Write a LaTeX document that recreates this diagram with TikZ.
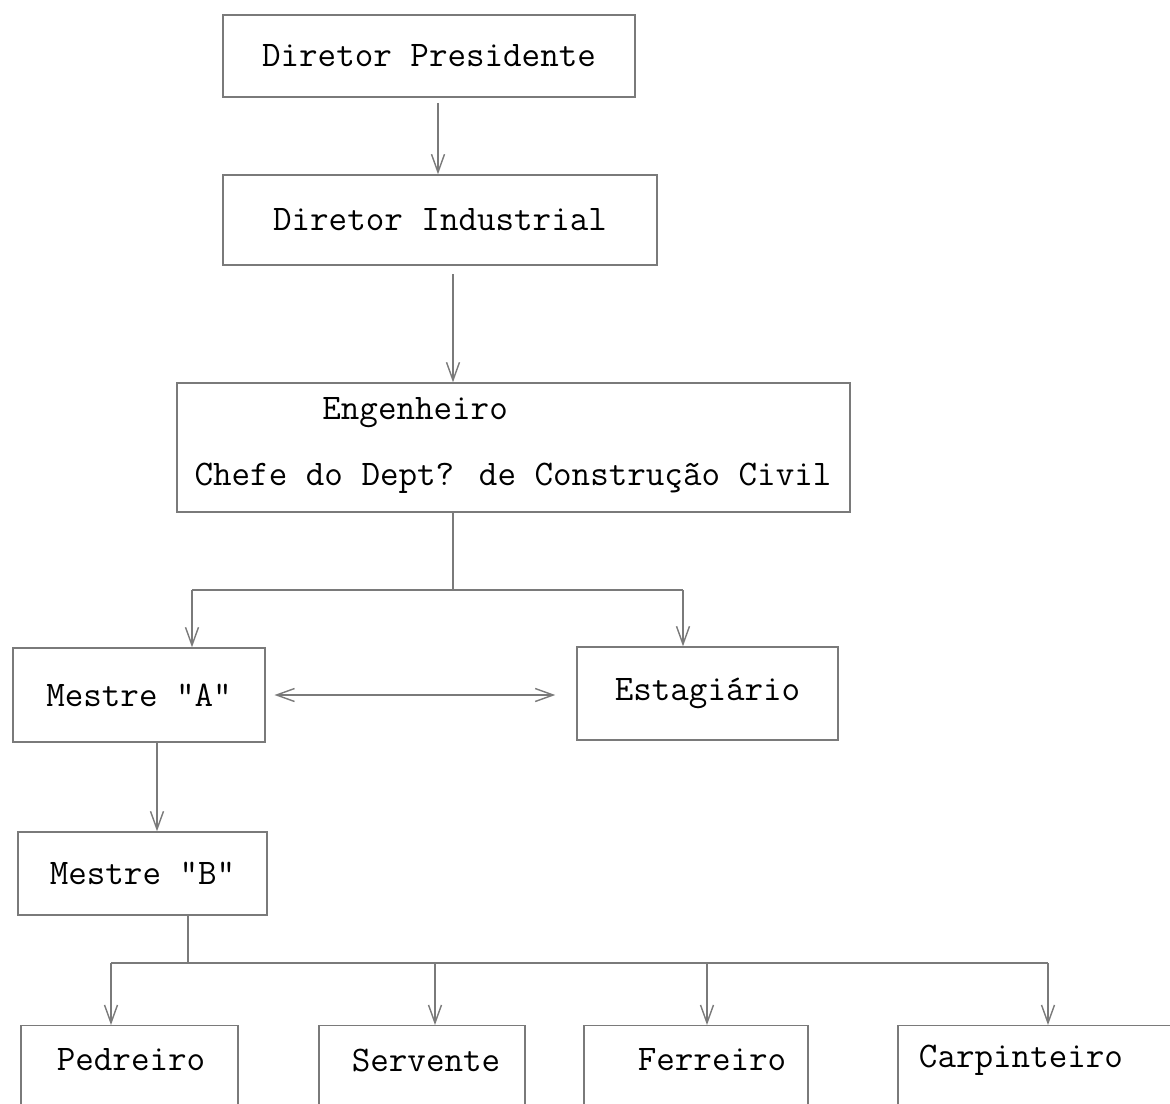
\documentclass[tikz,border=0pt]{standalone}
\usetikzlibrary{arrows.meta,positioning}
\definecolor{linegray}{gray}{0.48}
\tikzset{
  caixa/.style={draw=linegray,line width=0.8pt,inner sep=0pt,font=\ttfamily\fontsize{20.5}{22}\selectfont},
  texto/.style={inner sep=0pt,font=\ttfamily\fontsize{20.5}{22}\selectfont},
  linha/.style={draw=linegray,line width=0.8pt},
  seta/.style={linha,-{Straight Barb[length=0.36cm,width=0.26cm]}},
  setadupla/.style={linha,{Straight Barb[length=0.36cm,width=0.26cm]}-{Straight Barb[length=0.36cm,width=0.26cm]}}
}

\begin{document}
\begin{tikzpicture}[x=0.02cm,y=-0.02cm]
\useasboundingbox (0,0) rectangle (1170,1103);
\clip (0,0) rectangle (1170,1103);
% diretoria
\node[caixa,minimum width=8.24cm,minimum height=1.64cm] (pres) at (429,56) {Diretor Presidente};
\node[caixa,minimum width=8.68cm,minimum height=1.8cm] (ind) at (440,220) {Diretor Industrial};
\node[caixa,minimum width=13.46cm,minimum height=2.58cm] (eng) at (513.5,447.5) {};
\node[texto,anchor=west] (engA) at (322,413) {Engenheiro};
\node[texto] (engB) at (513,478) {Chefe do Dept? de Construção Civil};
% mestres
\node[caixa,minimum width=5.04cm,minimum height=1.88cm] (mA) at (139,695) {Mestre "A"};
\node[caixa,minimum width=5.22cm,minimum height=1.86cm] (est) at (707.5,693.5) {Estagiário};
\node[caixa,minimum width=4.98cm,minimum height=1.66cm] (mB) at (142.5,873.5) {Mestre "B"};
% operarios
\foreach \bx/\bw/\tx/\nome [count=\n] in
        {129.5/4.34/131/Pedreiro,422/4.12/426/Servente,696/4.48/712/Ferreiro,1041.5/5.74/1021/Carpinteiro}
        {
        \node[caixa,anchor=north,minimum width=\bw cm,minimum height=2.4cm] (b\n) at (\bx,1025) {};
        \node[texto] (t\n) at (\tx,1060) {\nome};
        }

\draw[seta,shorten <=3pt] (438,0 |- pres.south) -- (438,0 |- ind.north);
\draw[seta,shorten <=5pt] (453,0 |- ind.south) -- (453,0 |- eng.north);

\coordinate (j1) at (453,590);
\coordinate (j1a) at (192,590);
\coordinate (j1b) at (683,590);
\draw[linha] (453,0 |- eng.south) -- (j1);
\draw[linha] (j1a) -- (j1b);
\draw[seta] (j1a) -- (j1a |- mA.north);
\draw[seta] (j1b) -- (j1b |- est.north);
\draw[setadupla,shorten <=5pt,shorten >=12pt] (mA.east) -- (mA.east -| est.west);

\draw[seta] (157,0 |- mA.south) -- (157,0 |- mB.north);
\coordinate (j2) at (188,963);
\coordinate (j2a) at (111,963);
\coordinate (j2b) at (1048,963);
\draw[linha] (188,0 |- mB.south) -- (j2);
\draw[linha] (j2a) -- (j2b);
\foreach \ax [count=\n] in {111,435,707,1048}
        \draw[seta] (\ax,963) -- (\ax,0 |- b\n.north);
\end{tikzpicture}
\end{document}
